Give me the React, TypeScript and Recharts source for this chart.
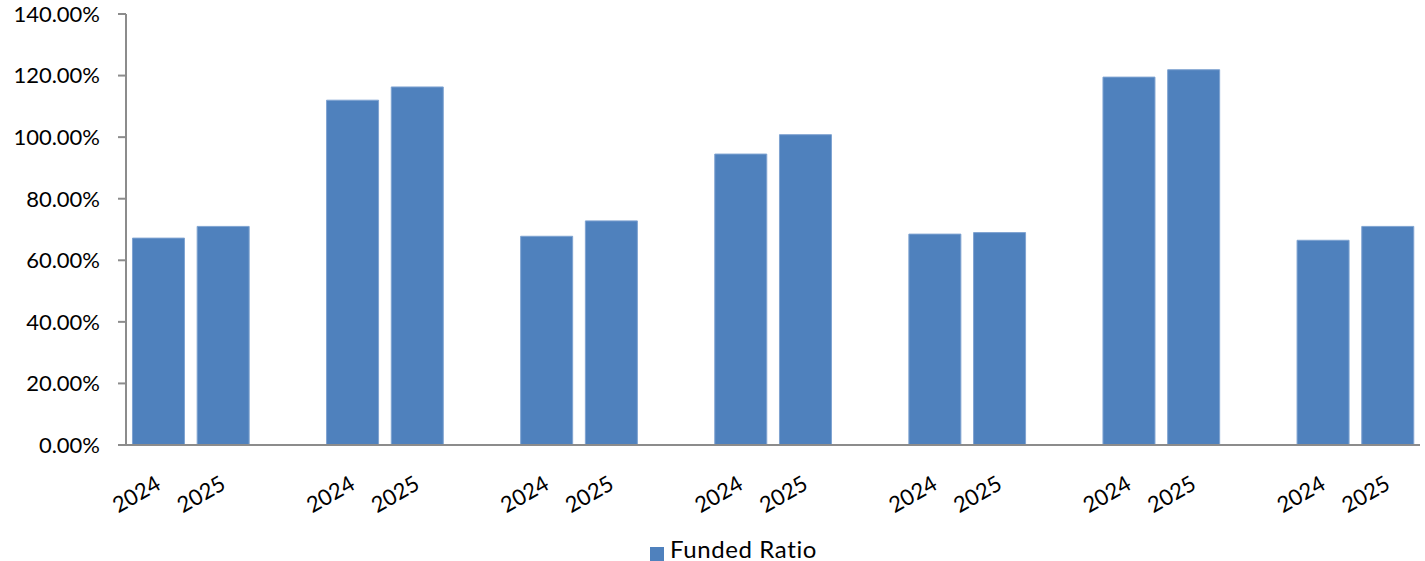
import React from 'react'
import { BarChart, Bar, XAxis, YAxis, Legend } from 'recharts'

// funded ratio (%) per plan, two valuation years each
const years = ['2024', '2025']
const funded2024 = [67.2, 112.0, 67.8, 94.5, 68.5, 119.5, 66.5]
const funded2025 = [71.0, 116.3, 72.8, 100.8, 69.0, 121.9, 71.0]
const yTicks = [0, 20, 40, 60, 80, 100, 120, 140]

const FONT = 'Lato, "Noto Sans", sans-serif'
const AXIS = '#8c8c8c'
const BAR = '#4f81bd'

// pairs of bars separated by an empty slot
const rows: { label: string; value: number | null }[] = []
funded2024.forEach((v, i) => {
  rows.push({ label: years[0], value: v })
  rows.push({ label: years[1], value: funded2025[i] })
  if (i < funded2024.length - 1) rows.push({ label: '', value: null })
})

function YearTick({ x, y, payload }: any) {
  if (!payload.value) return null
  const tx = x + 4
  const ty = y + 35
  return (
    <text
      x={tx}
      y={ty}
      transform={`rotate(-30, ${tx}, ${ty})`}
      textAnchor="end"
      fontSize={22}
      fontFamily={FONT}
      fill="#000"
    >
      {payload.value}
    </text>
  )
}

export default function App() {
  return (
    <div style={{ position: 'absolute', left: 0, top: 0, background: '#fff' }}>
      <BarChart
        width={1425}
        height={561}
        data={rows}
        margin={{ top: 14, right: 5, left: 0, bottom: 6 }}
        barCategoryGap="10%"
      >
        <XAxis
          dataKey="label"
          interval={0}
          tickLine={false}
          axisLine={{ stroke: AXIS, strokeWidth: 2 }}
          tick={<YearTick />}
          height={70}
        />
        <YAxis
          domain={[0, 140]}
          ticks={yTicks}
          width={126}
          tickSize={8}
          tickMargin={18}
          axisLine={{ stroke: AXIS, strokeWidth: 2 }}
          tickLine={{ stroke: AXIS, strokeWidth: 2 }}
          tickFormatter={(v) => `${Number(v).toFixed(2)}%`}
          tick={{ fontSize: 22, fontFamily: FONT, fill: '#000' }}
        />
        <Legend
          verticalAlign="bottom"
          height={40}
          iconType="square"
          iconSize={14}
          wrapperStyle={{ top: 534, left: 0, width: 1425, paddingLeft: 52, boxSizing: 'border-box' }}
          formatter={(value) => (
            <span style={{ color: '#000', fontSize: 24, fontFamily: FONT, letterSpacing: 0.6, marginLeft: 2 }}>
              {value}
            </span>
          )}
        />
        <Bar
          dataKey="value"
          name="Funded Ratio"
          fill={BAR}
          stroke="#7fa3d1"
          strokeWidth={1}
          isAnimationActive={false}
        />
      </BarChart>
    </div>
  )
}
